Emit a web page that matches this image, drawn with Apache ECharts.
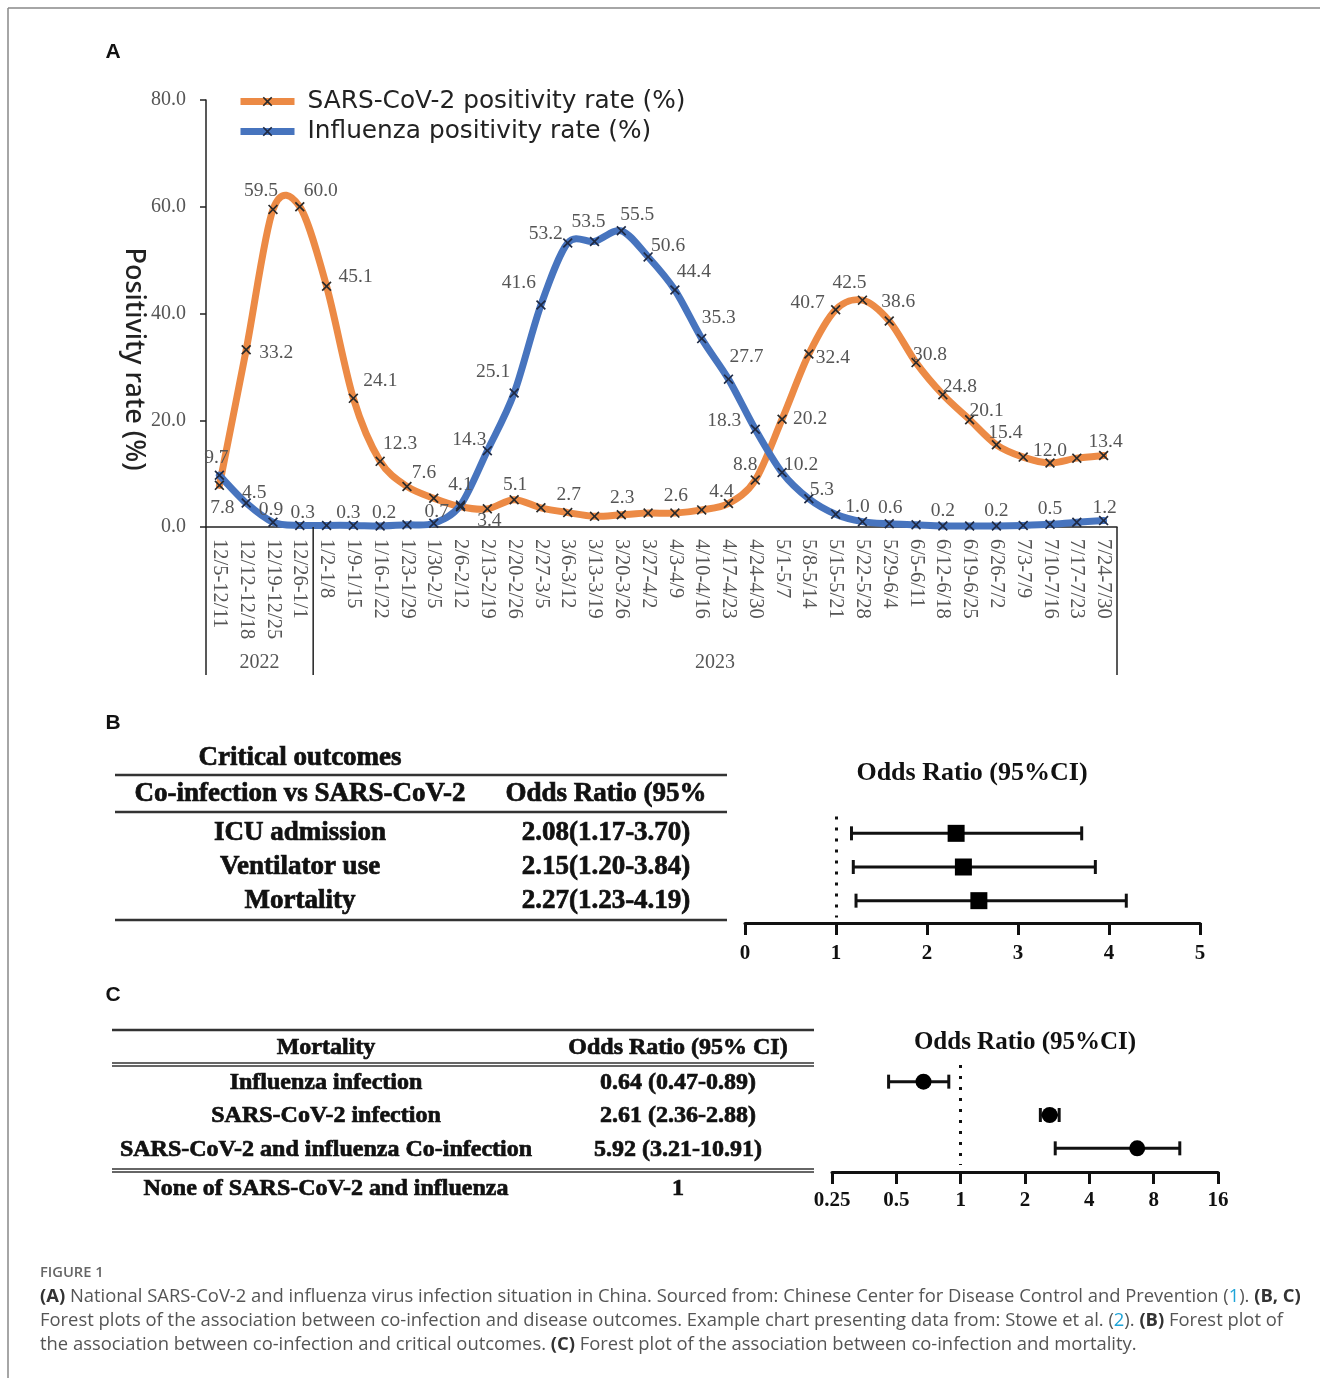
<!DOCTYPE html>
<html><head><meta charset="utf-8">
<script src="https://cdn.jsdelivr.net/npm/echarts@6/dist/echarts.min.js"></script>
<style>html,body{margin:0;padding:0;background:#fff}#c{width:1320px;height:1378px}</style>
</head><body><div id="c"></div>
<script>
// ---------- DATA ----------
const weeks = ['12/5-12/11','12/12-12/18','12/19-12/25','12/26-1/1','1/2-1/8','1/9-1/15','1/16-1/22','1/23-1/29','1/30-2/5','2/6-2/12','2/13-2/19','2/20-2/26','2/27-3/5','3/6-3/12','3/13-3/19','3/20-3/26','3/27-4/2','4/3-4/9','4/10-4/16','4/17-4/23','4/24-4/30','5/1-5/7','5/8-5/14','5/15-5/21','5/22-5/28','5/29-6/4','6/5-6/11','6/12-6/18','6/19-6/25','6/26-7/2','7/3-7/9','7/10-7/16','7/17-7/23','7/24-7/30'];
const sarsRate = [7.8,33.2,59.5,60.0,45.1,24.1,12.3,7.6,5.4,3.8,3.4,5.1,3.6,2.7,2.0,2.3,2.6,2.6,3.2,4.4,8.8,20.2,32.4,40.7,42.5,38.6,30.8,24.8,20.1,15.4,13.1,12.0,12.9,13.4];
const fluRate = [9.7,4.5,0.9,0.3,0.3,0.3,0.2,0.4,0.7,4.1,14.3,25.1,41.6,53.2,53.5,55.5,50.6,44.4,35.3,27.7,18.3,10.2,5.3,2.4,1.0,0.6,0.4,0.2,0.2,0.2,0.3,0.5,0.9,1.2];
const seriesNames = ['SARS-CoV-2 positivity rate (%)','Influenza positivity rate (%)'];
const years = ['2022','2023'];
const yearStart = [0, 4];
const yTicks = [0, 20, 40, 60, 80];

const critRows = ['ICU admission','Ventilator use','Mortality'];
const critORText = ['2.08(1.17-3.70)','2.15(1.20-3.84)','2.27(1.23-4.19)'];
const critPoint = [2.32, 2.40, 2.57];
const critLow = [1.17, 1.19, 1.22];
const critHigh = [3.70, 3.85, 4.19];
const critTicks = [0, 1, 2, 3, 4, 5];

const mortRows = ['Influenza infection','SARS-CoV-2 infection','SARS-CoV-2 and influenza Co-infection'];
const mortORText = ['0.64 (0.47-0.89)','2.61 (2.36-2.88)','5.92 (3.21-10.91)'];
const mortPoint = [0.67, 2.61, 6.7];
const mortLow = [0.46, 2.36, 2.77];
const mortHigh = [0.88, 2.89, 10.6];
const mortRefRow = ['None of SARS-CoV-2 and influenza', '1'];
const mortTicks = [0.25, 0.5, 1, 2, 4, 8, 16];

// ---------- STYLE (label placement, offsets from point centre) ----------
const sarsLabelOffset = {0:[3,23],1:[30,3],2:[-12,-19],3:[21,-16],4:[29,-9],5:[27,-17],6:[20,-17],7:[17,-14],10:[2,12],11:[1,-15],13:[1,-18],15:[1,-17],17:[1,-17],19:[-7,-12],20:[-10,-15],21:[28,0],22:[24,4],23:[-28,-7],24:[-13,-17],25:[9,-19],26:[14,-8],27:[17,-8],28:[17,-9],29:[9,-12],31:[0,-12],33:[2,-14]};
const fluLabelOffset = {0:[-3,-17],1:[8,-10],2:[-2,-12],3:[3,-13],5:[-5,-13],6:[4,-13],8:[3,-11],9:[0,-20],10:[-18,-11],11:[-21,-21],12:[-22,-22],13:[-22,-9],14:[-6,-20],15:[16,-16],16:[20,-11],17:[19,-18],18:[17,-21],19:[18,-22],20:[-31,-8],21:[19,-8],22:[13,-9],24:[-5,-15],25:[1,-16],27:[0,-15],29:[0,-15],31:[0,-15],33:[1,-13]};

const SERIF = "'Liberation Serif','Times New Roman',serif";
const SANS = "'Noto Sans','Open Sans',sans-serif";
const ORANGE = '#EC8A45';
const BLUE = '#4774BE';
const XMARK = 'path://M0,1.2L1.2,0L5,3.8L8.8,0L10,1.2L6.2,5L10,8.8L8.8,10L5,6.2L1.2,10L0,8.8L3.8,5Z';

function lineData(vals, offs){
  return vals.map((v,i)=>{
    const o = offs[i];
    return o ? {value:v, label:{show:true, position:'inside', offset:o}} : {value:v, label:{show:false}};
  });
}

// smoothed (Catmull-Rom style) curve through the data points, placed by the axes
function curveRenderer(vals, color){
  return function(params, api){
    const pts = vals.map((v,i)=>api.coord([i, v]));
    const n = pts.length, t = 0.155;
    let d = 'M' + pts[0][0].toFixed(2) + ' ' + pts[0][1].toFixed(2);
    for (let i = 0; i < n-1; i++){
      const p0 = pts[Math.max(i-1,0)], p1 = pts[i], p2 = pts[i+1], p3 = pts[Math.min(i+2,n-1)];
      const c1x = p1[0] + (p2[0]-p0[0])*t, c1y = p1[1] + (p2[1]-p0[1])*t;
      const c2x = p2[0] - (p3[0]-p1[0])*t, c2y = p2[1] - (p3[1]-p1[1])*t;
      d += ' C' + [c1x,c1y,c2x,c2y,p2[0],p2[1]].map(v=>v.toFixed(2)).join(' ');
    }
    return {type:'path', shape:{pathData:d}, style:{fill:'none', stroke:color, lineWidth:7, lineJoin:'round', lineCap:'round'}};
  };
}

function errBar(params, api){
  const p1 = api.coord([api.value(0), api.value(2)]);
  const p2 = api.coord([api.value(1), api.value(2)]);
  const h = 7;
  const st = {stroke:'#111', lineWidth:3};
  return {type:'group', children:[
    {type:'line', shape:{x1:p1[0],y1:p1[1],x2:p2[0],y2:p2[1]}, style:st},
    {type:'line', shape:{x1:p1[0],y1:p1[1]-h,x2:p1[0],y2:p1[1]+h}, style:st},
    {type:'line', shape:{x1:p2[0],y1:p2[1]-h,x2:p2[0],y2:p2[1]+h}, style:st}
  ]};
}

const chart = echarts.init(document.getElementById('c'), null, {renderer:'canvas'});

const serifLabel = {color:'#555', fontFamily:SERIF, fontSize:19.5};
const axisFontA = {color:'#555', fontFamily:SERIF, fontSize:20};

const option = {
  backgroundColor:'#fff',
  animation:false,
  legend:{
    left:232, top:84, orient:'vertical', itemGap:5, itemWidth:54, itemHeight:12,
    data:[
      {name:seriesNames[0], lineStyle:{opacity:1, color:ORANGE, width:7}},
      {name:seriesNames[1], lineStyle:{opacity:1, color:BLUE, width:7}}
    ],
    textStyle:{fontFamily:"'DejaVu Sans',sans-serif", fontSize:24.8, color:'#222', padding:[0,0,0,8]}
  },
  grid:[
    {left:206, top:100, width:911, height:427, outerBoundsMode:'none', containLabel:false},
    {left:745, top:816.5, width:455, height:101, outerBoundsMode:'none', containLabel:false},
    {left:832, top:1065, width:386, height:100, outerBoundsMode:'none', containLabel:false}
  ],
  xAxis:[
    {gridIndex:0, type:'category', data:weeks, boundaryGap:true,
     axisLine:{lineStyle:{color:'#222', width:1.5}}, axisTick:{show:false},
     axisLabel:Object.assign({interval:0, rotate:-90, margin:12, hideOverlap:false}, axisFontA, {fontSize:20.5})},
    {gridIndex:1, type:'value', min:critTicks[0], max:critTicks[critTicks.length-1], interval:1, offset:5.5,
     axisLine:{show:true, lineStyle:{color:'#111', width:3}},
     axisTick:{show:true, length:12, lineStyle:{color:'#111', width:3}},
     splitLine:{show:false},
     axisLabel:{margin:20, color:'#111', fontFamily:SERIF, fontWeight:'bold', fontSize:21}},
    {gridIndex:2, type:'value', min:Math.log2(mortTicks[0]), max:Math.log2(mortTicks[mortTicks.length-1]), interval:1, offset:7,
     axisLine:{show:true, lineStyle:{color:'#111', width:3}},
     axisTick:{show:true, length:12, lineStyle:{color:'#111', width:3}},
     splitLine:{show:false},
     axisLabel:{margin:18, color:'#111', fontFamily:SERIF, fontWeight:'bold', fontSize:21,
       formatter:v=>String(Math.pow(2, v))}}
  ],
  yAxis:[
    {gridIndex:0, type:'value', min:yTicks[0], max:yTicks[yTicks.length-1], interval:20,
     name:'Positivity rate (%)', nameLocation:'middle', nameRotate:-90, nameGap:59, nameMoveOverlap:false,
     nameTextStyle:{fontFamily:SANS, fontSize:27, color:'#222', fontWeight:500, padding:[0,0,0,91]},
     axisLine:{show:true, lineStyle:{color:'#222', width:1.5}},
     axisTick:{show:true, length:6, lineStyle:{color:'#222', width:1.5}},
     splitLine:{show:false},
     axisLabel:Object.assign({margin:20, formatter:v=>v.toFixed(1)}, axisFontA)},
    {gridIndex:1, type:'category', data:critRows, inverse:true, show:false},
    {gridIndex:2, type:'category', data:mortRows, inverse:true, show:false}
  ],
  series:[
    {type:'custom', xAxisIndex:0, yAxisIndex:0, renderItem:curveRenderer(sarsRate, ORANGE), data:[[0, sarsRate[0]]], clip:false, z:2, silent:true},
    {type:'custom', xAxisIndex:0, yAxisIndex:0, renderItem:curveRenderer(fluRate, BLUE), data:[[0, fluRate[0]]], clip:false, z:2, silent:true},
    {name:seriesNames[0], type:'line', xAxisIndex:0, yAxisIndex:0,
     data:lineData(sarsRate, sarsLabelOffset),
     symbol:XMARK, symbolSize:10, showAllSymbol:true,
     itemStyle:{color:'#2a2a2a'}, lineStyle:{color:ORANGE, width:7, opacity:0},
     label:Object.assign({formatter:p=>Number(p.value).toFixed(1)}, serifLabel), z:3},
    {name:seriesNames[1], type:'line', xAxisIndex:0, yAxisIndex:0,
     data:lineData(fluRate, fluLabelOffset),
     symbol:XMARK, symbolSize:10, showAllSymbol:true,
     itemStyle:{color:'#1f2a44'}, lineStyle:{color:BLUE, width:7, opacity:0},
     label:Object.assign({formatter:p=>Number(p.value).toFixed(1)}, serifLabel), z:4},
    {type:'custom', xAxisIndex:1, yAxisIndex:1, renderItem:errBar, encode:{x:[0,1], y:2},
     data:critRows.map((r,i)=>[critLow[i], critHigh[i], i]), z:5},
    {type:'scatter', xAxisIndex:1, yAxisIndex:1, symbol:'rect', symbolSize:17,
     itemStyle:{color:'#000', opacity:1}, data:critRows.map((r,i)=>[critPoint[i], i]), z:6,
     markLine:{silent:true, symbol:'none', label:{show:false},
       lineStyle:{type:[3,8], width:3, color:'#111'}, data:[{xAxis:1}]}},
    {type:'custom', xAxisIndex:2, yAxisIndex:2, renderItem:errBar, encode:{x:[0,1], y:2},
     data:mortRows.map((r,i)=>[Math.log2(mortLow[i]), Math.log2(mortHigh[i]), i]), z:5},
    {type:'scatter', xAxisIndex:2, yAxisIndex:2, symbol:'circle', symbolSize:16,
     itemStyle:{color:'#000', opacity:1}, data:mortRows.map((r,i)=>[Math.log2(mortPoint[i]), i]), z:6,
     markLine:{silent:true, symbol:'none', label:{show:false},
       lineStyle:{type:[3,8], width:3, color:'#111'}, data:[{xAxis:0}]}}
  ]
};
chart.setOption(option);

// ---------- decorations / tables ----------
const xA = i => chart.convertToPixel({xAxisIndex:0}, i);
const yBase = chart.convertToPixel({yAxisIndex:0}, 0);
const step = xA(1) - xA(0);
const bottomY = 675;
const g = [];
const line = (x1,y1,x2,y2,w,c) => g.push({type:'line', shape:{x1,y1,x2,y2}, style:{stroke:c||'#222', lineWidth:w||1.5}, z:10});
const text = (x,y,t,font,fill,extra) => g.push({type:'text', x, y, style:Object.assign({text:t, font, fill:fill||'#111', align:'center', verticalAlign:'middle'}, extra||{}), z:10});
const heavy = {stroke:'#111', lineWidth:0.7};

// year group separators
const edges = yearStart.map(s => xA(s) - step/2).concat([xA(weeks.length-1) + step/2]);
edges.forEach(ex => line(ex, yBase, ex, bottomY, 1.5));
years.forEach((y,k) => text((edges[k]+edges[k+1])/2, 663, y, "20px " + SERIF, '#555'));

// frame
line(8, 8, 1320, 8, 1.5, '#888');
line(8, 8, 8, 1378, 1.5, '#888');

// panel letters
const letterFont = "bold 21px 'Liberation Sans', Arial, sans-serif";
text(113, 52, 'A', letterFont, '#111');
text(113, 723, 'B', letterFont, '#111');
text(113, 995, 'C', letterFont, '#111');

// table B
const bFont = "bold 27px " + SERIF;
text(300, 758, 'Critical outcomes', bFont, '#111', heavy);
line(115, 775, 727, 775, 2.5, '#333');
text(300, 794, 'Co-infection vs SARS-CoV-2', bFont, '#111', heavy);
text(606, 794, 'Odds Ratio (95%', bFont, '#111', heavy);
line(115, 812, 727, 812, 2.5, '#333');
const critRowY = critRows.map((r,i)=>chart.convertToPixel({yAxisIndex:1}, i));
critRows.forEach((r,i)=>{ text(300, critRowY[i], r, bFont, '#111', heavy); text(606, critRowY[i], critORText[i], bFont, '#111', heavy); });
line(115, 920, 727, 920, 2.5, '#333');
text(972, 773, 'Odds Ratio (95%CI)', "bold 26px " + SERIF);

// table C
const cFont = "bold 24px " + SERIF;
line(112, 1030, 814, 1030, 2.5, '#333');
text(326, 1048, 'Mortality', cFont, '#111', heavy);
text(678, 1048, 'Odds Ratio (95% CI)', cFont, '#111', heavy);
line(112, 1063, 814, 1063, 1.5, '#333');
line(112, 1066, 814, 1066, 1.5, '#333');
const mortRowY = mortRows.map((r,i)=>chart.convertToPixel({yAxisIndex:2}, i));
mortRows.forEach((r,i)=>{ text(326, mortRowY[i]+1, r, cFont, '#111', heavy); text(678, mortRowY[i]+1, mortORText[i], cFont, '#111', heavy); });
line(112, 1169, 814, 1169, 1.5, '#333');
line(112, 1172, 814, 1172, 1.5, '#333');
text(326, 1189, mortRefRow[0], cFont, '#111', heavy);
text(678, 1189, mortRefRow[1], cFont, '#111', heavy);
text(1025, 1043, 'Odds Ratio (95%CI)', "bold 25px " + SERIF);

// caption
const capSize = 18.4;
const capFont = capSize + "px 'Open Sans', sans-serif";
const capRich = {b:{fontWeight:'bold', fill:'#333', fontFamily:'Open Sans', fontSize:capSize}, l:{fill:'#1ea4d8', fontFamily:'Open Sans', fontSize:capSize}};
g.push({type:'text', x:40, y:1273, style:{text:'FIGURE 1', font:"600 14.7px 'Open Sans', sans-serif", fill:'#666', verticalAlign:'middle'}, z:10});
const capLines = [
  '{b|(A)} National SARS-CoV-2 and influenza virus infection situation in China. Sourced from: Chinese Center for Disease Control and Prevention ({l|1}). {b|(B, C)}',
  'Forest plots of the association between co-infection and disease outcomes. Example chart presenting data from: Stowe et al. ({l|2}). {b|(B)} Forest plot of',
  'the association between co-infection and critical outcomes. {b|(C)} Forest plot of the association between co-infection and mortality.'
];
capLines.forEach((t,i)=>g.push({type:'text', x:40, y:1297+24*i, style:{text:t, font:capFont, fill:'#555', rich:capRich, verticalAlign:'middle'}, z:10}));

chart.setOption({graphic:g});
</script>
</body></html>
